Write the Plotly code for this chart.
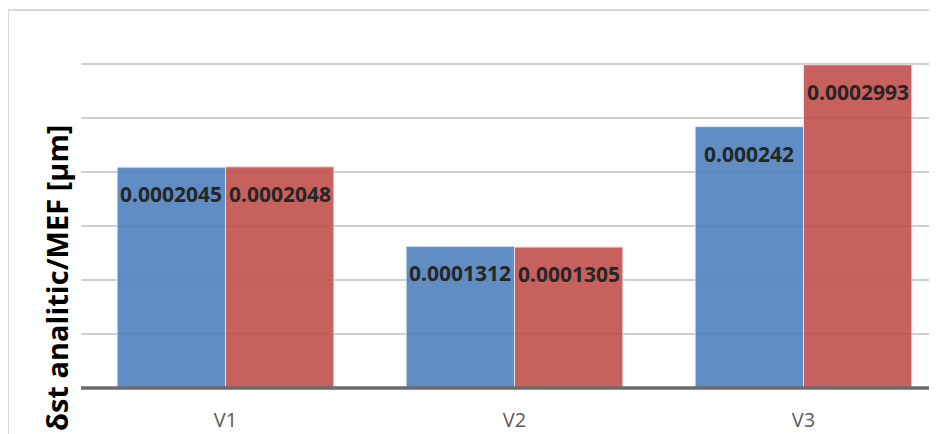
import plotly.graph_objects as go

# ---- data ----
categories = ["V1", "V2", "V3"]
analitic = [0.0002045, 0.0001312, 0.000242]
mef = [0.0002048, 0.0001305, 0.0002993]
label_analitic = ["0.0002045", "0.0001312", "0.000242"]
label_mef = ["0.0002048", "0.0001305", "0.0002993"]
y_title = "δst analitic/MEF [µm]"

# ---- style ----
OFF = 8  # default page body margin
W, H = 937 - OFF, 434 - OFF
ML, MT, MR = 81 - OFF, 10 - OFF, 0
MB = H - (388 - OFF)
BARGAP = 0.25
BLUE = "#4F81BD"
RED = "#C0504D"
CAT_PX = 289.0
plot_w = W - ML - MR
plot_h = H - MT - MB
x_max = -0.5 + plot_w / CAT_PX

fig = go.Figure()
fig.add_trace(go.Bar(x=list(range(len(categories))), y=analitic, name="analitic",
                     marker=dict(color=BLUE, line=dict(color="#dbe5f1", width=1)),
                     opacity=0.9, hoverinfo="skip"))
fig.add_trace(go.Bar(x=list(range(len(categories))), y=mef, name="MEF",
                     marker=dict(color=RED, line=dict(color="#f2dcdb", width=1)),
                     opacity=0.9, hoverinfo="skip"))

half = (1 - BARGAP) / 4.0
annots = []
for i in range(len(categories)):
    for off, val, lab in ((-half, analitic[i], label_analitic[i]), (half, mef[i], label_mef[i])):
        annots.append(dict(x=i + off, y=val, xref="x", yref="y", text=lab,
                           showarrow=False, yanchor="middle", xanchor="center", yshift=-27,
                           font=dict(family="Open Sans", size=21, color="#262626", weight="bold")))

annots.append(dict(xref="paper", yref="paper", x=(56 - 81) / plot_w, y=(388 - 278) / plot_h,
                   text=y_title, textangle=-90, showarrow=False, xanchor="center", yanchor="middle",
                   font=dict(family="Open Sans", size=29, color="#000000", weight="bold")))

bx = (8 - 81) / plot_w
shapes = [
    # outer chart border (left + top)
    dict(type="line", xref="paper", yref="paper", x0=bx, x1=bx,
         y0=1.0, y1=-0.2, line=dict(color="#d9d9d9", width=2), layer="above"),
    dict(type="line", xref="paper", yref="paper", x0=bx, x1=1.02,
         y0=1.0, y1=1.0, line=dict(color="#d9d9d9", width=2), layer="above"),
    # baseline (category axis line)
    dict(type="line", xref="paper", yref="paper", x0=0, x1=1.02, y0=0, y1=0,
         line=dict(color="#6b6b6b", width=3.5), layer="above"),
]

fig.update_layout(
    width=W, height=H,
    margin=dict(l=ML, r=MR, t=MT, b=MB, pad=0),
    paper_bgcolor="white", plot_bgcolor="white",
    barmode="group", bargap=BARGAP, bargroupgap=0,
    showlegend=False,
    annotations=annots, shapes=shapes,
    xaxis=dict(range=[-0.5, x_max], tickmode="array", tickvals=list(range(len(categories))),
               ticktext=categories, showgrid=False, zeroline=False, showline=False,
               ticks="", ticklabelstandoff=18,
               tickfont=dict(family="Open Sans", size=20, color="#595959")),
    yaxis=dict(range=[0, 0.00035], dtick=0.00005, showticklabels=False, showgrid=True,
               gridcolor="#cfcfcf", gridwidth=1.5, zeroline=False, showline=False, ticks=""),
)

fig.write_html("out.html")
